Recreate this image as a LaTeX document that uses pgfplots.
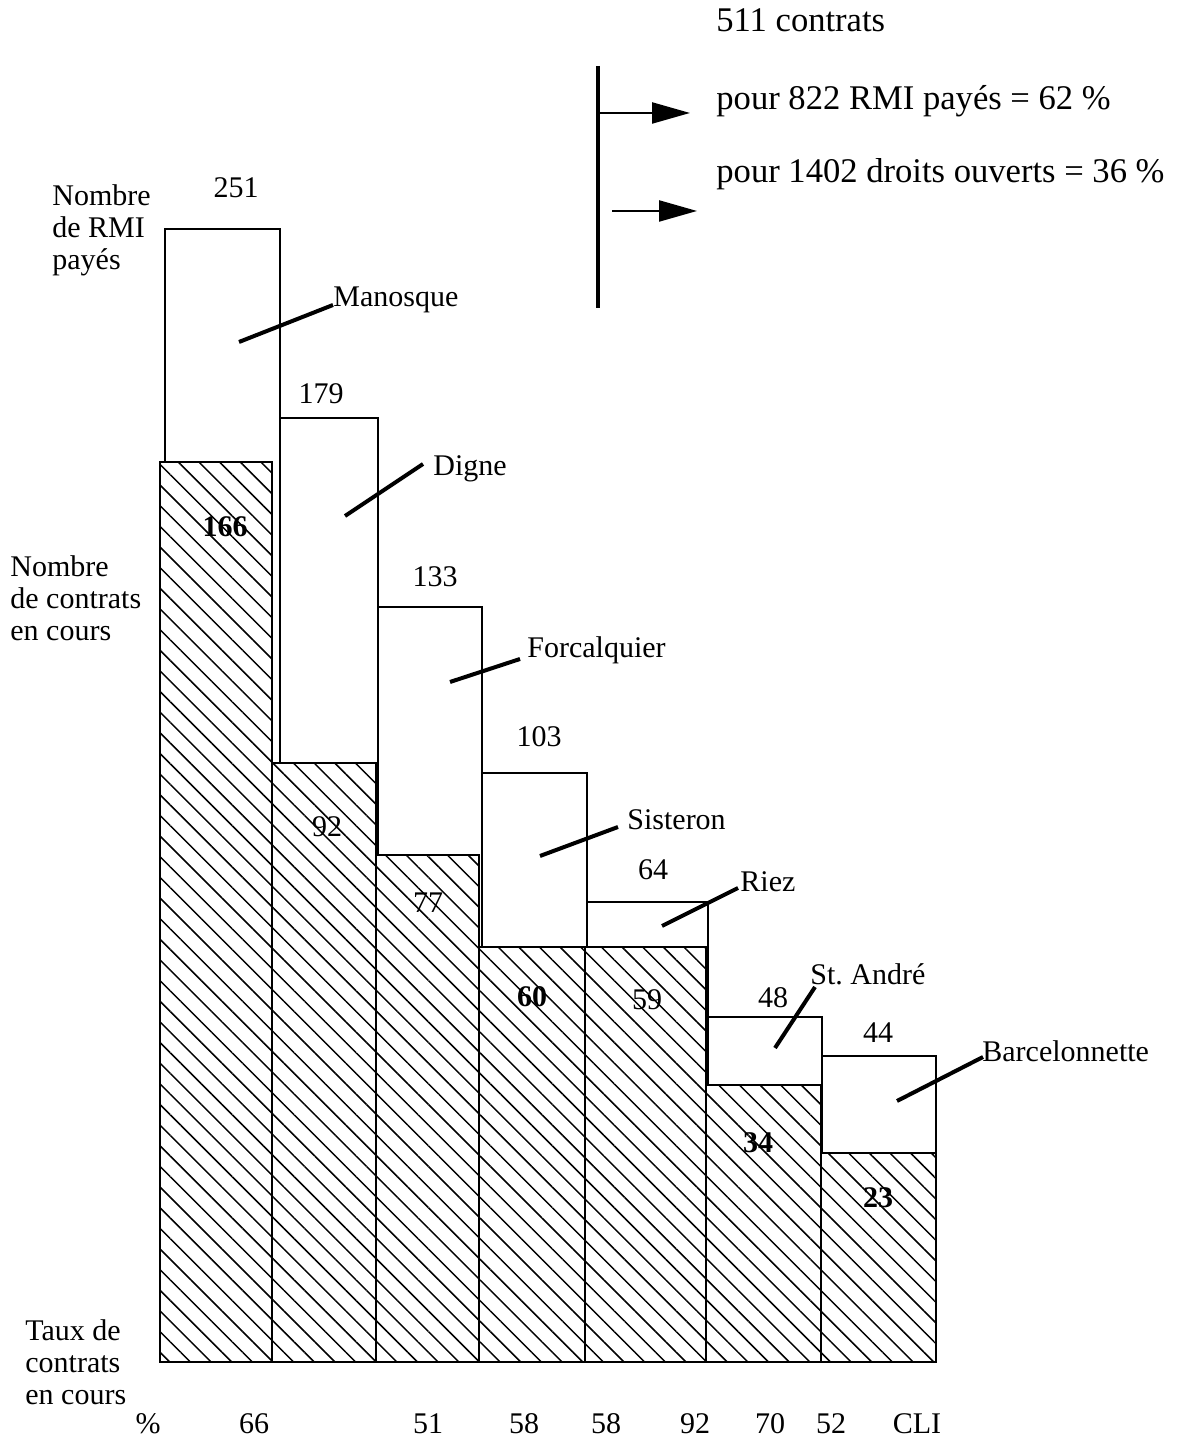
\documentclass[border=0pt]{standalone}
\usepackage{fontspec}
\setmainfont{Liberation Serif}
\usepackage{pgfplots}
\pgfplotsset{compat=1.18}
\usetikzlibrary{patterns.meta,arrows.meta}
\frenchspacing

\begin{document}
\begin{tikzpicture}[
  lbl/.style={font=\fontsize{15}{18}\selectfont, inner sep=0pt},
  big/.style={font=\fontsize{17.3}{20}\selectfont, inner sep=0pt},
]
\begin{axis}[
  scale only axis, width=590pt, height=720pt,
  xmin=0, xmax=1180, ymin=-78, ymax=1362,
  hide axis, clip=false,
]
\path (rel axis cs:0,0) rectangle (rel axis cs:1,1);

% Nombre de RMI payes (outer white boxes)
\addplot[ybar interval, fill=white, draw=black, line width=1.4pt]
  coordinates {(165,1133) (280,944) (378,755) (482,589) (587,460) (708,345) (822,306) (936,306)};

% Nombre de contrats en cours (hatched)
\addplot[ybar interval, fill=white, draw=black, line width=1.4pt,
  postaction={pattern={Lines[angle=-45,distance=7.3pt,line width=0.75pt]}}]
  coordinates {(160,900) (272,599) (376,507) (479,415) (585,415) (706,277) (821,209) (936,209)};

% leader lines
\addplot[black, line width=2pt] coordinates {(239,1020) (333,1057)};
\addplot[black, line width=2pt] coordinates {(345,846) (423,898)};
\addplot[black, line width=2pt] coordinates {(450,680) (520,703)};
\addplot[black, line width=2pt] coordinates {(540,506) (618,535)};
\addplot[black, line width=2pt] coordinates {(662,436) (738,474)};
\addplot[black, line width=2pt] coordinates {(775,314) (815,375)};
\addplot[black, line width=2pt] coordinates {(897,261) (983,305)};

% top-right annotation
\addplot[black, line width=1.6pt] coordinates {(598,1296) (598,1054)};
\addplot[black, line width=1.1pt, -{Triangle[length=19pt,width=10.5pt]}] coordinates {(598,1249) (690,1249)};
\addplot[black, line width=1.1pt, -{Triangle[length=19pt,width=10.5pt]}] coordinates {(612,1151) (697,1151)};

\node[big, anchor=base west] at (axis cs:716,1330) {511 contrats};
\node[big, anchor=base west] at (axis cs:716,1252) {pour 822 RMI payés = 62 \%};
\node[big, anchor=base west] at (axis cs:716,1179) {pour 1402 droits ouverts = 36 \%};

% left labels
\node[lbl, anchor=base west] at (axis cs:52,1156) {Nombre};
\node[lbl, anchor=base west] at (axis cs:52,1124) {de RMI};
\node[lbl, anchor=base west] at (axis cs:52,1092) {payés};
\node[lbl, anchor=base west] at (axis cs:10,785) {Nombre};
\node[lbl, anchor=base west] at (axis cs:10,753) {de contrats};
\node[lbl, anchor=base west] at (axis cs:10,721) {en cours};
\node[lbl, anchor=base west] at (axis cs:25,21) {Taux de};
\node[lbl, anchor=base west] at (axis cs:25,-11) {contrats};
\node[lbl, anchor=base west] at (axis cs:25,-43) {en cours};

% RMI values
\node[lbl, anchor=base] at (axis cs:236,1164) {251};
\node[lbl, anchor=base] at (axis cs:321,958) {179};
\node[lbl, anchor=base] at (axis cs:435,775) {133};
\node[lbl, anchor=base] at (axis cs:539,615) {103};
\node[lbl, anchor=base] at (axis cs:653,482) {64};
\node[lbl, anchor=base] at (axis cs:773,354) {48};
\node[lbl, anchor=base] at (axis cs:878,319) {44};

% contrats values
\node[lbl, anchor=base, font=\fontsize{15}{18}\selectfont\bfseries] at (axis cs:225,825) {166};
\node[lbl, anchor=base] at (axis cs:327,525) {92};
\node[lbl, anchor=base] at (axis cs:428,449) {77};
\node[lbl, anchor=base, font=\fontsize{15}{18}\selectfont\bfseries] at (axis cs:532,355) {60};
\node[lbl, anchor=base] at (axis cs:647,352) {59};
\node[lbl, anchor=base, font=\fontsize{15}{18}\selectfont\bfseries] at (axis cs:758,209) {34};
\node[lbl, anchor=base, font=\fontsize{15}{18}\selectfont\bfseries] at (axis cs:878,154) {23};

% town names
\node[lbl, anchor=base west] at (axis cs:333,1055) {Manosque};
\node[lbl, anchor=base west] at (axis cs:433,886) {Digne};
\node[lbl, anchor=base west] at (axis cs:527,704) {Forcalquier};
\node[lbl, anchor=base west] at (axis cs:627,532) {Sisteron};
\node[lbl, anchor=base west] at (axis cs:740,470) {Riez};
\node[lbl, anchor=base west] at (axis cs:810,377) {St. André};
\node[lbl, anchor=base west] at (axis cs:982,300) {Barcelonnette};

% bottom rates
\node[lbl, anchor=base] at (axis cs:148,-72) {\%};
\node[lbl, anchor=base] at (axis cs:254,-72) {66};
\node[lbl, anchor=base] at (axis cs:428,-72) {51};
\node[lbl, anchor=base] at (axis cs:524,-72) {58};
\node[lbl, anchor=base] at (axis cs:606,-72) {58};
\node[lbl, anchor=base] at (axis cs:695,-72) {92};
\node[lbl, anchor=base] at (axis cs:770,-72) {70};
\node[lbl, anchor=base] at (axis cs:831,-72) {52};
\node[lbl, anchor=base] at (axis cs:917,-72) {CLI};
\end{axis}
\end{tikzpicture}
\end{document}
